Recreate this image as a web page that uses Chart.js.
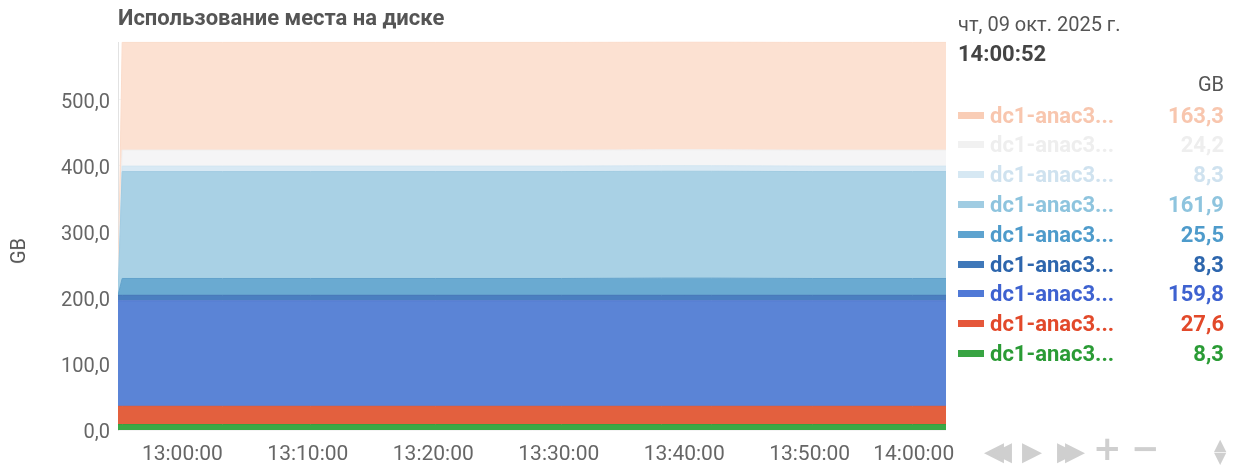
<!DOCTYPE html>
<html>
<head>
<meta charset="utf-8">
<script src="https://cdn.jsdelivr.net/npm/chart.js@4.4.0/dist/chart.umd.min.js"></script>
<style>
  body { margin: 0; background: #fff; font-family: Roboto, sans-serif; }
  #wrap { position: relative; width: 1237px; height: 467px; overflow: hidden; }
  #chart { position: absolute; left: 0; top: 0; }
  .title { position: absolute; left: 118px; top: 5px; font-size: 22px; font-weight: bold; color: #555; white-space: nowrap; }
  .ytitle { position: absolute; left: 18px; top: 251px; font-size: 20px; color: #555; transform: translate(-50%, -50%) rotate(-90deg); }
  .date { position: absolute; left: 958px; top: 12px; font-size: 20px; color: #555; white-space: nowrap; }
  .time { position: absolute; left: 958px; top: 41px; font-size: 22px; font-weight: bold; color: #444; }
  .unit { position: absolute; right: 13px; top: 72px; font-size: 20px; color: #555; }
  .row { position: absolute; left: 958px; width: 266px; height: 26px; display: flex; align-items: center; font-size: 22px; font-weight: bold; }
  .row .sw { width: 26px; height: 7px; margin-right: 6px; }
  .row .name { flex: 1; }
  .row .val { text-align: right; }
  .ctrl { position: absolute; top: 437px; font-size: 26px; color: #cfcfcf; font-family: "DejaVu Sans", sans-serif; line-height: 28px; }
</style>
</head>
<body>
<div id="wrap">
  <canvas id="chart" width="1237" height="467"></canvas>
  <div class="title">Использование места на диске</div>
  <div class="ytitle">GB</div>
  <div class="date">чт, 09 окт. 2025 г.</div>
  <div class="time">14:00:52</div>
  <div class="unit">GB</div>
  <div id="legend"></div>
  <div class="ctrl" style="left:984px;letter-spacing:-12px">◀◀</div>
  <div class="ctrl" style="left:1022px">▶</div>
  <div class="ctrl" style="left:1057px;letter-spacing:-12px">▶▶</div>
  <div class="ctrl" style="left:1093px;font-size:34px;font-weight:bold;top:434px">+</div>
  <div class="ctrl" style="left:1131px;font-size:34px;font-weight:bold;top:434px">−</div>
  <div class="ctrl" style="left:1214px;font-size:16px;line-height:13px;top:438px">▲<br>▼</div>
</div>
<script>
// sample times (hh:mm:ss)
const times = ['12:54:52', '12:55:12', '13:03:12', '13:10:12', '13:20:12', '13:30:12', '13:38:12', '13:42:12', '13:50:12', '13:58:12', '14:00:52'];

// series, bottom of the stack first
const s1 = [8.3, 8.3, 8.3, 8.3, 8.3, 8.3, 8.3, 8.3, 8.3, 8.3, 8.3];
const s2 = [27.6, 27.6, 27.6, 27.6, 27.6, 27.6, 27.6, 27.6, 27.6, 27.6, 27.6];
const s3 = [159.8, 159.8, 159.8, 159.8, 159.8, 159.8, 159.8, 159.8, 159.8, 159.8, 159.8];
const s4 = [8.3, 8.3, 8.3, 8.3, 8.3, 8.3, 8.3, 8.3, 8.3, 8.3, 8.3];
const s5 = [0, 25.5, 25.5, 25.5, 25.5, 25.5, 26.0, 26.0, 25.5, 25.5, 25.5];
const s6 = [0, 161.9, 161.9, 161.9, 161.9, 161.9, 161.9, 161.9, 161.9, 161.9, 161.9];
const s7 = [0, 8.3, 8.3, 8.3, 8.3, 8.3, 8.3, 8.3, 8.3, 8.3, 8.3];
const s8 = [0, 24.2, 24.2, 24.2, 24.2, 24.2, 24.2, 24.2, 24.2, 24.2, 24.2];
const s9 = [0, 163.3, 163.3, 163.3, 163.3, 163.3, 163.3, 163.3, 163.3, 163.3, 163.3];

const seriesNames = ['dc1-anac3...', 'dc1-anac3...', 'dc1-anac3...', 'dc1-anac3...', 'dc1-anac3...',
  'dc1-anac3...', 'dc1-anac3...', 'dc1-anac3...', 'dc1-anac3...'];

const xTicks = ['13:00:00', '13:10:00', '13:20:00', '13:30:00', '13:40:00', '13:50:00', '14:00:00'];
const yTicks = [0, 100, 200, 300, 400, 500];
const xMin = '12:54:52';
const xMax = '14:00:52';

const fills = ['#3ba846', '#e3603e', '#5b84d6', '#4a7fc0', '#6aaad1', '#a9d1e5', '#d8e9f4', '#f5f5f6', '#fce1d2'];
const lines = ['#35a040', '#df5736', '#5479d0', '#4174b6', '#62a2cb', '#a2cce2', '#d2e5f1', '#efeff0', '#fbdccb'];
const swatches = ['#38a443', '#e5573a', '#5079d6', '#3f78b9', '#5ea3cf', '#a0cce2', '#d6e8f3', '#f1f1f1', '#f9cdb6'];
const textColors = ['#2a9b35', '#e2492a', '#3e62d0', '#2d66ad', '#4e9bcb', '#8ec4de', '#cfe2ef', '#eeeeee', '#f8c6ae'];

const toSec = t => {
  const [h, m, s] = t.split(':').map(Number);
  return h * 3600 + m * 60 + s;
};
const fmt = v => v.toFixed(1).replace('.', ',');

const series = [s1, s2, s3, s4, s5, s6, s7, s8, s9];
const xs = times.map(toSec);

const datasets = series.map((vals, i) => ({
  label: seriesNames[i],
  data: vals.map((v, j) => ({ x: xs[j], y: v })),
  backgroundColor: fills[i],
  borderColor: lines[i],
  borderWidth: 1,
  pointRadius: 0,
  tension: 0,
  fill: i === 0 ? 'origin' : '-1'
}));

new Chart(document.getElementById('chart'), {
  type: 'line',
  data: { datasets },
  options: {
    responsive: false,
    animation: false,
    devicePixelRatio: 1,
    layout: { padding: { top: 42, right: 291, bottom: 0, left: 0 } },
    plugins: { legend: { display: false }, tooltip: { enabled: false } },
    scales: {
      x: {
        type: 'linear',
        min: toSec(xMin),
        max: toSec(xMax),
        z: 1,
        afterBuildTicks: scale => { scale.ticks = xTicks.map(t => ({ value: toSec(t) })); },
        afterFit: scale => { scale.height = 37; },
        grid: { color: 'rgba(0,0,0,0.045)', drawTicks: false },
        border: { display: false },
        ticks: {
          padding: 12,
          maxRotation: 0,
          color: '#666',
          font: { family: 'Roboto', size: 21 },
          callback: (v, i) => i === xTicks.length - 1 ? xTicks[i] + '\u2002\u2002\u2002\u2002' : xTicks[i]
        }
      },
      y: {
        stacked: true,
        min: 0,
        bounds: 'data',
        z: 1,
        afterBuildTicks: scale => { scale.ticks = yTicks.map(v => ({ value: v })); },
        afterFit: scale => { scale.width = 118; },
        grid: { color: 'rgba(0,0,0,0.045)', drawTicks: false },
        border: { display: true, color: '#e2e2e2' },
        ticks: {
          padding: 8,
          labelOffset: 3,
          color: '#666',
          font: { family: 'Roboto', size: 20 },
          callback: v => fmt(v)
        }
      }
    }
  }
});

// legend, top of the stack first
const legend = document.getElementById('legend');
for (let k = 0; k < series.length; k++) {
  const i = series.length - 1 - k;
  const row = document.createElement('div');
  row.className = 'row';
  row.style.top = (102 + k * 29.8) + 'px';
  row.style.color = textColors[i];
  row.innerHTML = `<span class="sw" style="background:${swatches[i]}"></span>` +
    `<span class="name">${seriesNames[i]}</span><span class="val">${fmt(series[i][series[i].length - 1])}</span>`;
  legend.appendChild(row);
}
</script>
</body>
</html>
